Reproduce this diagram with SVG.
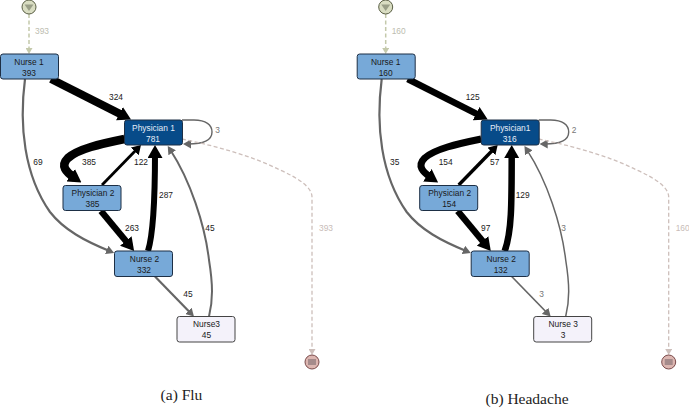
<svg xmlns="http://www.w3.org/2000/svg" width="689" height="408" viewBox="0 0 689 408">
<style>
text{font-family:"Liberation Sans",Arial,sans-serif;font-size:8.4px;text-anchor:middle;fill:#1a1a1a}
.cap{font-family:"Liberation Serif","Times New Roman",serif;font-size:15.500px;fill:#222}
.n{stroke:#1d2f45;stroke-width:1;rx:2.5}
.lt{fill:#77a9d8}.dk{fill:#074b89}.wh{fill:#f4f2fa;stroke:#444}
.w{fill:#e6eef8}.l{fill:#333}.lg{fill:#bdbdb0}.lr{fill:#c8bcb8}.g3{fill:#777}
.e{fill:none}
.k{stroke:#000}
.g{stroke:#666;marker-end:url(#ag)}
.d1{stroke:#c4c9ab;stroke-width:1.5;stroke-dasharray:4 2.5;marker-end:url(#ad1)}
.d2{stroke:#cdbfbb;stroke-width:1.3;stroke-dasharray:4 2.5;marker-end:url(#ad2)}
.big{marker-end:url(#ab)}.mid{marker-end:url(#am)}
</style>
<defs>
<marker id="ab" markerUnits="userSpaceOnUse" markerWidth="13" markerHeight="15" viewBox="0 0 13 15" refX="5" refY="7.5" orient="auto"><path d="M0,0L13,7.500L0,15z" fill="#000"/></marker>
<marker id="am" markerUnits="userSpaceOnUse" markerWidth="9" markerHeight="11" viewBox="0 0 9 11" refX="3" refY="5.5" orient="auto"><path d="M0,0L9,5.500L0,11z" fill="#000"/></marker>
<marker id="ag" markerUnits="userSpaceOnUse" markerWidth="8" markerHeight="9" viewBox="0 0 8 9" refX="3" refY="4.5" orient="auto"><path d="M0,0L8,4.500L0,9z" fill="#666"/></marker>
<marker id="ad1" markerUnits="userSpaceOnUse" markerWidth="6" markerHeight="7" viewBox="0 0 6 7" refX="2" refY="3.5" orient="auto"><path d="M0,0L6,3.500L0,7z" fill="#c4c9ab"/></marker>
<marker id="ad2" markerUnits="userSpaceOnUse" markerWidth="6" markerHeight="7" viewBox="0 0 6 7" refX="2" refY="3.5" orient="auto"><path d="M0,0L6,3.500L0,7z" fill="#cdbfbb"/></marker>
</defs>

<g id="connectors-flu" class="e">
<path class="d1" d="M29,14V50"/>
<path class="k big" stroke-width="8" d="M51,79L123.900,115.900"/>
<path class="k big" stroke-width="8.500" d="M124.500,139C100,144 78,149 68,158C60,166 66,172 74.800,178"/>
<path class="k mid" stroke-width="2.800" d="M102,185L136.800,149.300"/>
<path class="k big" stroke-width="6" d="M148,251C153,235 155,205 155,153"/>
<path class="k big" stroke-width="6.500" d="M101,211L129,244.800"/>
<path class="g" stroke-width="2.200" d="M25,79C19,125 24,175 50,212C64,230 85,241 109.500,251"/>
<path class="g" stroke-width="2.200" d="M155,276.500L190.500,313"/>
<path class="g" stroke-width="2" d="M209,316.500C213,300 213,285 209,260C205,225 190,180 170.500,150.300"/>
<path class="g" stroke-width="1.400" d="M182,120H194C206,120 212,125 212,132C212,140 204,144 188,144"/>
<path class="d2" d="M182,139C215,146 250,155 280,170C298,178 312,187 312,197V351"/>
</g>
<g id="edge-labels-flu">
<text class="lg" x="42" y="34">393</text>
<text x="116" y="100">324</text>
<text class="g3" x="217.500" y="132.500">3</text>
<text x="38" y="165">69</text>
<text x="89" y="165">385</text>
<text x="141" y="165">122</text>
<text x="166" y="198">287</text>
<text x="132" y="231">263</text>
<text x="210" y="231">45</text>
<text x="188" y="297">45</text>
<text class="lr" x="326" y="231">393</text>
</g>
<g id="start-flu"><circle cx="29" cy="7" r="7" fill="#d9ddc2" stroke="#5a5f45"/><path d="M24.500,4.500H33.500L29,11z" fill="#9a9f88"/></g>
<g id="end-flu"><circle cx="312" cy="362" r="7" fill="#dcb6b1" stroke="#7a4a4a"/><rect x="308" y="359" width="8" height="6" fill="#a58b8b"/></g>
<g id="nurse1-flu"><rect class="n lt" x="0.500" y="54" width="58" height="25"/><text x="29" y="64.500">Nurse 1</text><text x="29" y="75.500">393</text></g>
<g id="physician1-flu"><rect class="n dk" x="124.500" y="120" width="58" height="25"/><text class="w" x="153.500" y="130.500">Physician 1</text><text class="w" x="153" y="141.500">781</text></g>
<g id="physician2-flu"><rect class="n lt" x="63" y="185.500" width="58" height="25"/><text x="93" y="196">Physician 2</text><text x="92.500" y="207">385</text></g>
<g id="nurse2-flu"><rect class="n lt" x="114.500" y="251" width="58" height="25.500"/><text x="144.500" y="261.500">Nurse 2</text><text x="144" y="272.500">332</text></g>
<g id="nurse3-flu"><rect class="n wh" x="177" y="316.500" width="58" height="25.500"/><text x="206.500" y="327">Nurse3</text><text x="206.500" y="338">45</text></g>
<text class="cap" x="181.500" y="400">(a) Flu</text>

<g transform="translate(356.700 0)">
<g id="connectors-headache" class="e">
<path class="d1" d="M29,14V50"/>
<path class="k big" stroke-width="6.500" d="M51,79L123.900,115.900"/>
<path class="k big" stroke-width="7" d="M124.500,139C100,144 78,149 68,158C60,166 66,172 74.800,178"/>
<path class="k mid" stroke-width="3.400" d="M102,185L136.800,149.300"/>
<path class="k big" stroke-width="6.500" d="M148,251C155,232 155,205 155,153"/>
<path class="k big" stroke-width="6.500" d="M101,211L129,244.800"/>
<path class="g" stroke-width="2.200" d="M25,79C19,125 24,175 50,212C64,230 85,241 109.500,251"/>
<path class="g" stroke-width="1.700" d="M155,276.500L190.500,313"/>
<path class="g" stroke-width="1.500" d="M209,316.500C213,300 213,285 209,260C205,225 190,180 170.500,150.300"/>
<path class="g" stroke-width="1.400" d="M182,120H194C206,120 212,125 212,132C212,140 204,144 188,144"/>
<path class="d2" d="M182,139C215,146 250,155 280,170C298,178 312,187 312,197V351"/>
</g>
<g id="edge-labels-headache">
<text class="lg" x="42" y="34">160</text>
<text x="116" y="100">125</text>
<text class="g3" x="217.500" y="132.500">2</text>
<text x="38" y="165">35</text>
<text x="89" y="165">154</text>
<text x="138" y="165">57</text>
<text x="166" y="198">129</text>
<text x="129" y="231">97</text>
<text class="g3" x="207" y="231">3</text>
<text class="g3" x="185" y="297">3</text>
<text class="lr" x="326" y="231">160</text>
</g>
<g id="start-headache"><circle cx="29" cy="7" r="7" fill="#d9ddc2" stroke="#5a5f45"/><path d="M24.500,4.500H33.500L29,11z" fill="#9a9f88"/></g>
<g id="end-headache"><circle cx="312" cy="362" r="7" fill="#dcb6b1" stroke="#7a4a4a"/><rect x="308" y="359" width="8" height="6" fill="#a58b8b"/></g>
<g id="nurse1-headache"><rect class="n lt" x="0.500" y="54" width="58" height="25"/><text x="29" y="64.500">Nurse 1</text><text x="29" y="75.500">160</text></g>
<g id="physician1-headache"><rect class="n dk" x="124.500" y="120" width="58" height="25"/><text class="w" x="153.500" y="130.500">Physician1</text><text class="w" x="153" y="141.500">316</text></g>
<g id="physician2-headache"><rect class="n lt" x="63" y="185.500" width="58" height="25"/><text x="93" y="196">Physician 2</text><text x="92.500" y="207">154</text></g>
<g id="nurse2-headache"><rect class="n lt" x="114.500" y="251" width="58" height="25.500"/><text x="144.500" y="261.500">Nurse 2</text><text x="144" y="272.500">132</text></g>
<g id="nurse3-headache"><rect class="n wh" x="177" y="316.500" width="58" height="25.500"/><text x="206.500" y="327">Nurse 3</text><text x="206.500" y="338">3</text></g>
</g>
<text class="cap" x="527" y="404">(b) Headache</text>
</svg>
